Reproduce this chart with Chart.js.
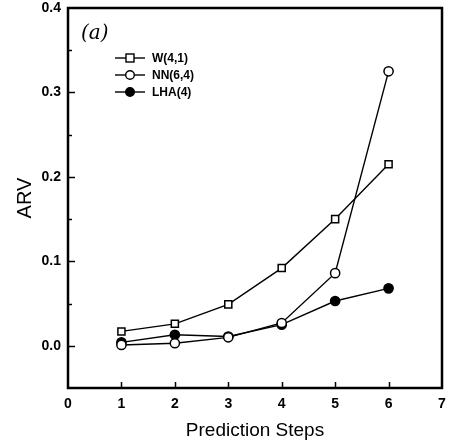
<!DOCTYPE html>
<html><head><meta charset="utf-8">
<script src="https://cdn.jsdelivr.net/npm/chart.js@4/dist/chart.umd.min.js"></script>
<style>html,body{margin:0;padding:0;background:#fff}#wrap{width:452px;height:445px}</style>
</head><body><div id="wrap"><canvas id="c" width="452" height="445"></canvas></div>
<script>
const steps = [1, 2, 3, 4, 5, 6];
const wValues = [0.017, 0.026, 0.049, 0.092, 0.150, 0.215];
const nnValues = [0.001, 0.003, 0.010, 0.027, 0.086, 0.325];
const lhaValues = [0.004, 0.013, 0.011, 0.025, 0.053, 0.068];
const seriesLabels = ['W(4,1)', 'NN(6,4)', 'LHA(4)'];
const xTicks = [0, 1, 2, 3, 4, 5, 6, 7];
const yTicks = [0.0, 0.1, 0.2, 0.3, 0.4];
const panelLabel = '(a)';

const pts = v => steps.map((s, i) => ({x: s, y: v[i]}));
const FONT = "'Liberation Sans', Arial, sans-serif";

const frameAndTicks = {
  id: 'frameAndTicks',
  afterDatasetsDraw(chart) {
    const ctx = chart.ctx, a = chart.chartArea;
    const xs = chart.scales.x, ys = chart.scales.y;
    ctx.save();
    ctx.strokeStyle = '#000';
    ctx.lineWidth = 1.5;
    steps.forEach(s => {
      const px = Math.round(xs.getPixelForValue(s)) + 0.5;
      ctx.beginPath(); ctx.moveTo(px, a.bottom); ctx.lineTo(px, a.bottom - 6); ctx.stroke();
    });
    for (let k = -1; k <= 8; k++) {
      const v = k * 0.05;
      const py = Math.round(ys.getPixelForValue(v)) + 0.5;
      if (py <= a.top + 1 || py >= a.bottom - 1) continue;
      const len = (k % 2 === 0) ? 7 : 4;
      ctx.beginPath(); ctx.moveTo(a.left, py); ctx.lineTo(a.left + len, py); ctx.stroke();
    }
    ctx.lineWidth = 2.5;
    ctx.strokeRect(a.left, a.top, a.right - a.left, a.bottom - a.top);
    ctx.fillStyle = '#000';
    ctx.font = "italic 20px 'DejaVu Serif', serif";
    ctx.textBaseline = 'middle';
    ctx.textAlign = 'left';
    ctx.fillText(panelLabel, a.left + 13, a.top + 26);
    const rows = [a.top + 50, a.top + 67, a.top + 84];
    chart.data.datasets.forEach((ds) => {
      const y = rows[ds.legendRow];
      const x0 = a.left + 47, x1 = a.left + 77, xm = (x0 + x1) / 2;
      ctx.lineWidth = 1.4;
      ctx.strokeStyle = '#000';
      ctx.beginPath(); ctx.moveTo(x0, y); ctx.lineTo(x1, y); ctx.stroke();
      ctx.fillStyle = ds.pointBackgroundColor;
      if (ds.pointStyle === 'rect') {
        ctx.fillRect(xm - 4, y - 4, 8, 8);
        ctx.strokeRect(xm - 4, y - 4, 8, 8);
      } else {
        ctx.beginPath(); ctx.arc(xm, y, 4.3, 0, Math.PI * 2); ctx.fill(); ctx.stroke();
      }
      ctx.fillStyle = '#000';
      ctx.font = "bold 12px " + FONT;
      ctx.textAlign = 'left';
      ctx.fillText(ds.label, x1 + 7, y + 1);
    });
    ctx.restore();
  }
};

const common = {borderColor: '#000', borderWidth: 1.4, pointBorderColor: '#000', pointBorderWidth: 1.5, tension: 0, fill: false};

new Chart(document.getElementById('c'), {
  type: 'line',
  data: {
    datasets: [
      Object.assign({label: seriesLabels[0], data: pts(wValues), pointStyle: 'rect', pointRadius: 5, pointBackgroundColor: '#fff', order: 2, legendRow: 0}, common),
      Object.assign({label: seriesLabels[1], data: pts(nnValues), pointStyle: 'circle', pointRadius: 4.6, pointBackgroundColor: '#fff', order: 0, legendRow: 1}, common),
      Object.assign({label: seriesLabels[2], data: pts(lhaValues), pointStyle: 'circle', pointRadius: 4.6, pointBackgroundColor: '#000', order: 1, legendRow: 2}, common)
    ]
  },
  options: {
    responsive: false,
    animation: false,
    devicePixelRatio: 1,
    layout: {padding: {top: 8, right: 10, left: 0, bottom: 0}},
    plugins: {legend: {display: false}, tooltip: {enabled: false}},
    scales: {
      x: {
        type: 'linear', min: 0, max: 7,
        afterBuildTicks: s => { s.ticks = xTicks.map(v => ({value: v})); },
        afterFit: s => { s.height = 57; s.paddingLeft = 0; s.paddingRight = 0; },
        grid: {display: false, drawTicks: false},
        border: {display: false},
        ticks: {color: '#000', font: {family: FONT, size: 14, weight: 'bold'}, padding: 8},
        title: {display: true, text: 'Prediction Steps', color: '#000', font: {family: FONT, size: 19}, padding: {top: 4, bottom: 3}}
      },
      y: {
        type: 'linear', min: -0.05, max: 0.4,
        afterBuildTicks: s => { s.ticks = yTicks.map(v => ({value: v})); },
        afterFit: s => { s.width = 68; s.paddingTop = 0; s.paddingBottom = 0; },
        grid: {display: false, drawTicks: false},
        border: {display: false},
        ticks: {color: '#000', font: {family: FONT, size: 14, weight: 'bold'}, padding: 7, callback: v => v.toFixed(1)},
        title: {display: true, text: 'ARV', color: '#000', font: {family: FONT, size: 20}, padding: {top: 13, bottom: 0}}
      }
    }
  },
  plugins: [frameAndTicks]
});
</script></body></html>
